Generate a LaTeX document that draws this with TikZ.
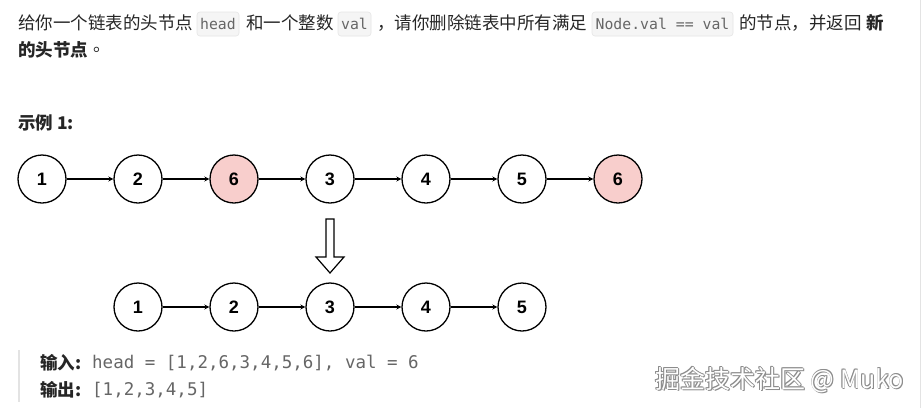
\documentclass[tikz,border=0pt]{standalone}
\usepackage{fontspec}
\setmainfont{Liberation Sans}
\setmonofont{DejaVu Sans Mono}
\newfontfamily\cjk{Noto Sans CJK SC}
\usetikzlibrary{arrows}
\definecolor{txtgray}{HTML}{262626}
\definecolor{codegray}{HTML}{666666}
\definecolor{codefill}{HTML}{F5F5F5}
\definecolor{codeline}{HTML}{E6E6E6}
\definecolor{delpink}{HTML}{F8CECC}
\definecolor{barline}{HTML}{E3E3E3}
\begin{document}
\begin{tikzpicture}[x=1pt, y=-1pt,
    llnode/.style={circle, draw, line width=1.3pt, minimum size=48pt, inner sep=0pt,
        font=\fontsize{18}{20}\selectfont\bfseries},
    delnode/.style={llnode, fill=delpink},
    llarrow/.style={-stealth, line width=1.2pt},
    cntext/.style={anchor=west, inner sep=0pt, text=txtgray, font=\fontsize{17.5}{20}\selectfont\cjk},
    cnbold/.style={cntext, font=\fontsize{17.5}{20}\selectfont\cjk\bfseries},
    codebox/.style={fill=codefill, draw=codeline, line width=0.6pt, rounded corners=3pt},
    codetext/.style={inner sep=0pt, text=codegray, font=\fontsize{14.8}{17}\selectfont\ttfamily},
    iotext/.style={anchor=west, inner sep=0pt, text=codegray, font=\fontsize{17.5}{20}\selectfont\ttfamily}]
        \fill[white] (0,0) rectangle (922,408);
        \useasboundingbox (0,0) rectangle (922,408);
        \draw[barline, line width=0.8pt] (920.5,0) -- (920.5,408);

        % question text
        \node[cntext] (q1) at (18,23) {给你一个链表的头节点};
        \draw[codebox] (197,12) rectangle (239,36);
        \node[codetext] (chead) at (218,24) {head};
        \node[cntext] (q2) at (246,23) {和一个整数};
        \draw[codebox] (338,12) rectangle (371,36);
        \node[codetext] (cval) at (354.5,24) {val};
        \node[cntext] (q3) at (377,23) {，请你删除链表中所有满足};
        \draw[codebox] (592,12) rectangle (733,36);
        \node[codetext] (cnode) at (662.5,24) {Node.val == val};
        \node[cntext] (q4) at (739,23) {的节点，并返回};
        \node[cnbold] (q5) at (866,23) {新};
        \node[cnbold] (q6) at (18,50) {的头节点};
        \node[cntext] (q7) at (93,50) {。};

        \node[cnbold] (ex) at (18,123) {示例 1:};

        % original list
        \node[llnode] (a1) at (42,179) {1};
        \node[llnode] (a2) at (138,179) {2};
        \node[delnode] (a6) at (234,179) {6};
        \node[llnode] (a3) at (330,179) {3};
        \node[llnode] (a4) at (426,179) {4};
        \node[llnode] (a5) at (522,179) {5};
        \node[delnode] (a7) at (618,179) {6};
        \draw[llarrow] (a1) -- (a2);
        \draw[llarrow] (a2) -- (a6);
        \draw[llarrow] (a6) -- (a3);
        \draw[llarrow] (a3) -- (a4);
        \draw[llarrow] (a4) -- (a5);
        \draw[llarrow] (a5) -- (a7);

        % hollow arrow
        \draw[line width=1.2pt, fill=white] (326,219) -- (334,219) -- (334,257) -- (344,257)
            -- (330,273) -- (316,257) -- (326,257) -- cycle;

        % result list
        \node[llnode] (b1) at (138,307) {1};
        \node[llnode] (b2) at (234,307) {2};
        \node[llnode] (b3) at (330,307) {3};
        \node[llnode] (b4) at (426,307) {4};
        \node[llnode] (b5) at (522,307) {5};
        \draw[llarrow] (b1) -- (b2);
        \draw[llarrow] (b2) -- (b3);
        \draw[llarrow] (b3) -- (b4);
        \draw[llarrow] (b4) -- (b5);

        % input / output
        \draw[barline, line width=2.5pt] (19,350) -- (19,402);
        \node[cnbold] (inl) at (40,363) {输入:};
        \node[iotext] (inv) at (92,363) {head = [1,2,6,3,4,5,6], val = 6};
        \node[cnbold] (outl) at (40,390) {输出:};
        \node[iotext] (outv) at (92,390) {[1,2,3,4,5]};

        % watermark
        \foreach \dx/\dy in {0.9/0.9, -0.5/0.5, 0.5/-0.5, -0.5/-0.5, 0.9/0}
            \node[anchor=west, inner sep=0pt, text=black!45, font=\fontsize{25}{27}\selectfont\cjk]
                at (655+\dx,380+\dy) {掘金技术社区 @ Muko};
        \node[anchor=west, inner sep=0pt, text=white, font=\fontsize{25}{27}\selectfont\cjk]
            (wm) at (655,380) {掘金技术社区 @ Muko};

    \end{tikzpicture}
\end{document}
